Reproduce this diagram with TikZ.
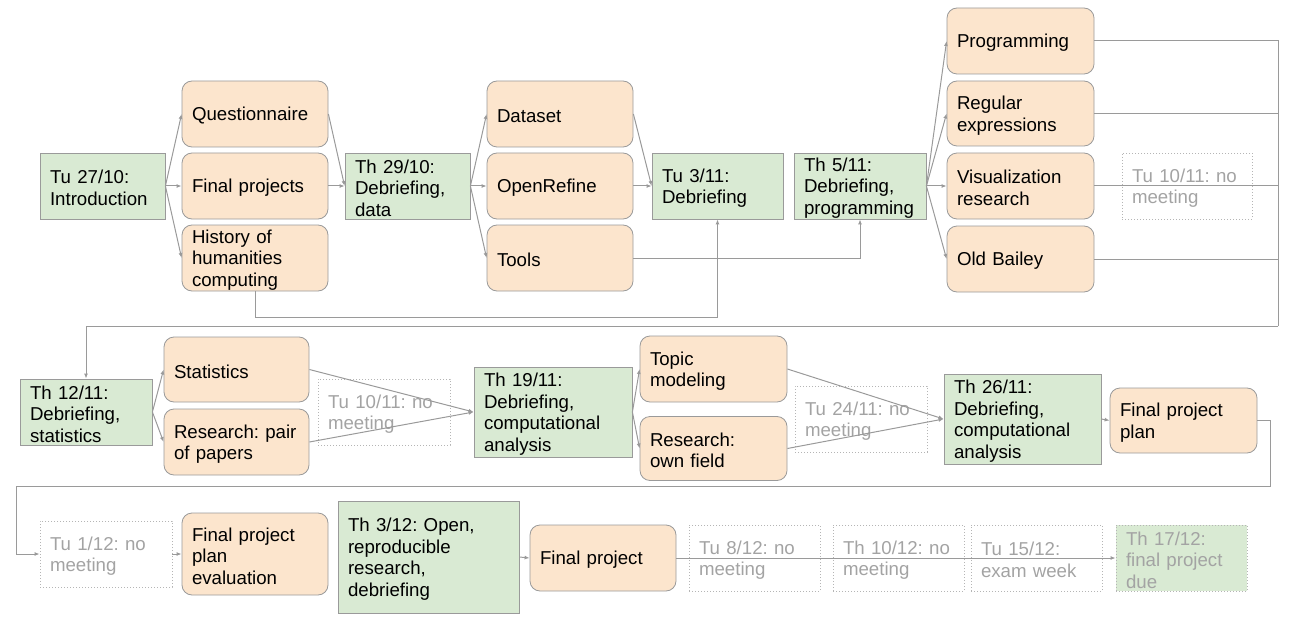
\documentclass[tikz,border=0pt]{standalone}
\usepackage{fontspec}
\setmainfont{Liberation Sans}
\usetikzlibrary{arrows.meta}
\definecolor{weekgreen}{HTML}{D9EAD3}
\definecolor{topicorange}{HTML}{FCE5CD}
\definecolor{edgegray}{HTML}{9A9A9A}
\definecolor{nomeetgray}{HTML}{A3A3A3}
\newcommand{\boxfont}{\fontsize{18.67pt}{21.5pt}\selectfont\frenchspacing}

\begin{document}
\begin{tikzpicture}[x=1pt,y=-1pt,
  every node/.style={execute at begin node={\rule{0pt}{17.4pt}}},
  week/.style={draw=edgegray,line width=0.8pt,fill=weekgreen,align=left,inner xsep=10pt,inner ysep=0pt,font=\boxfont,text width=105pt,minimum height=66pt},
  topic/.style={draw=edgegray,line width=0.8pt,fill=topicorange,rounded corners=10pt,align=left,inner xsep=10pt,inner ysep=0pt,font=\boxfont,text width=126pt,minimum height=66pt},
  nomeet/.style={draw=nomeetgray!80,line width=0.8pt,dash pattern=on 1pt off 2pt,text=nomeetgray,align=left,inner xsep=10pt,inner ysep=0pt,font=\boxfont,text width=111pt,minimum height=66pt},
  link/.style={draw=edgegray,line width=1pt,-{Latex[length=5pt,width=4pt]}},
  wire/.style={draw=edgegray,line width=1pt},
]
\useasboundingbox (0,0) rectangle (1295,631);

\node[week] (intro) at (102.5,186) {Tu 27/10:\\Introduction};
\node[topic] (quest) at (255,114) {Questionnaire};
\node[topic] (projects) at (255,186) {Final projects};
\node[topic] (history) at (255,258) {History of\\humanities\\computing};
\node[week] (data) at (407.5,186) {Th 29/10:\\Debriefing,\\data};
\node[topic] (dataset) at (560,114) {Dataset};
\node[topic] (refine) at (560,186) {OpenRefine};
\node[topic] (tools) at (560,258) {Tools};
\node[week,text width=111pt] (debrief) at (717.5,186) {Tu 3/11:\\Debriefing};
\node[week,text width=112pt] (progweek) at (860,186) {Th 5/11:\\Debriefing,\\programming};
\node[topic,text width=127pt] (coding) at (1020.5,41) {Programming};
\node[topic,text width=127pt,minimum height=65pt] (regex) at (1020.5,113.5) {Regular\\expressions};
\node[topic,text width=127pt] (vis) at (1020.5,186) {Visualization\\research};
\node[topic,text width=127pt] (bailey) at (1020.5,259) {Old Bailey};
\node[nomeet,text width=110pt] (gap1) at (1187,186) {Tu 10/11: no\\meeting};

\node[week,text width=112pt] (statsweek) at (86,412) {Th 12/11:\\Debriefing,\\statistics};
\node[topic,text width=125pt,minimum height=65pt] (statistics) at (236.5,369.5) {Statistics};
\node[topic,text width=125pt] (pairs) at (236.5,442) {Research:~pair\\of papers};
\node[nomeet,text width=112pt] (gap2) at (384,412) {Tu 10/11: no\\meeting};
\node[week,text width=138pt,minimum height=90pt] (analysis) at (553,412) {Th 19/11:\\Debriefing,\\computational\\analysis};
\node[topic,text width=127pt] (topics) at (713.5,369) {Topic\\modeling};
\node[topic,text width=127pt,minimum height=64pt] (field) at (713.5,448.5) {Research:\\own field};
\node[nomeet,text width=112pt] (gap3) at (861,419) {Tu 24/11: no\\meeting};
\node[week,text width=137pt,minimum height=90pt] (analysis2) at (1022.5,419) {Th 26/11:\\Debriefing,\\computational\\analysis};
\node[topic,text width=127pt,minimum height=65pt] (plan) at (1183.5,420.5) {Final project\\plan};

\node[nomeet,text width=112pt] (gap4) at (106,554) {Tu 1/12: no\\meeting};
\node[topic,minimum height=82pt] (evaluation) at (255,554) {Final project\\plan\\evaluation};
\node[week,text width=161pt,minimum height=112pt] (openweek) at (428.5,557) {Th 3/12: Open,\\reproducible\\research,\\debriefing};
\node[topic] (final) at (603,558) {Final project};
\node[nomeet] (gap5) at (754.5,558) {Tu 8/12: no\\meeting};
\node[nomeet] (gap6) at (898.5,558) {Th 10/12:~no\\meeting};
\node[nomeet] (gap7) at (1036.5,558) {Tu 15/12:\\exam week};
\node[nomeet,fill=weekgreen] (due) at (1181.5,558) {Th 17/12:\\final project\\due};

\foreach \t in {quest,projects,history} \draw[link] (intro.east) -- (\t.west);
\draw[link] (quest.east) -- (data.west);
\draw[link] (projects.east) -- (data.west);
\draw[link] (history.south) -- ++(0,26) -| (debrief.south);
\foreach \t in {dataset,refine,tools} \draw[link] (data.east) -- (\t.west);
\draw[link] (dataset.east) -- (debrief.west);
\draw[link] (refine.east) -- (debrief.west);
\draw[link] (tools.east) -| (progweek.south);
\foreach \t in {coding,regex,vis,bailey} \draw[link] (progweek.east) -- (\t.west);
\coordinate (rail) at (1278,326);
\draw[wire] (coding.east) -| (rail);
\foreach \t in {regex,vis,bailey} \draw[wire] (\t.east) -- (\t.east -| rail);
\draw[link] (rail) -| (statsweek.north);

\draw[link] (statsweek.east) -- (statistics.west);
\draw[link] (statsweek.east) -- (pairs.west);
\draw[link] (statistics.east) -- (analysis.west);
\draw[link] (pairs.east) -- (analysis.west);
\draw[link] (analysis.east) -- (topics.west);
\draw[link] (analysis.east) -- (field.west);
\draw[link] (topics.east) -- (analysis2.west);
\draw[link] (field.east) -- (analysis2.west);
\draw[link] (analysis2.east) -- (plan.west);
\coordinate (rail2) at (16,486);
\draw[link] (plan.east) -- ++(13,0) |- (rail2) |- (gap4.west);

\draw[link] (gap4.east) -- (evaluation.west);
\draw[link] (openweek.east) -- (final.west);
\draw[link] (final.east) -- (due.west);
\end{tikzpicture}
\end{document}
